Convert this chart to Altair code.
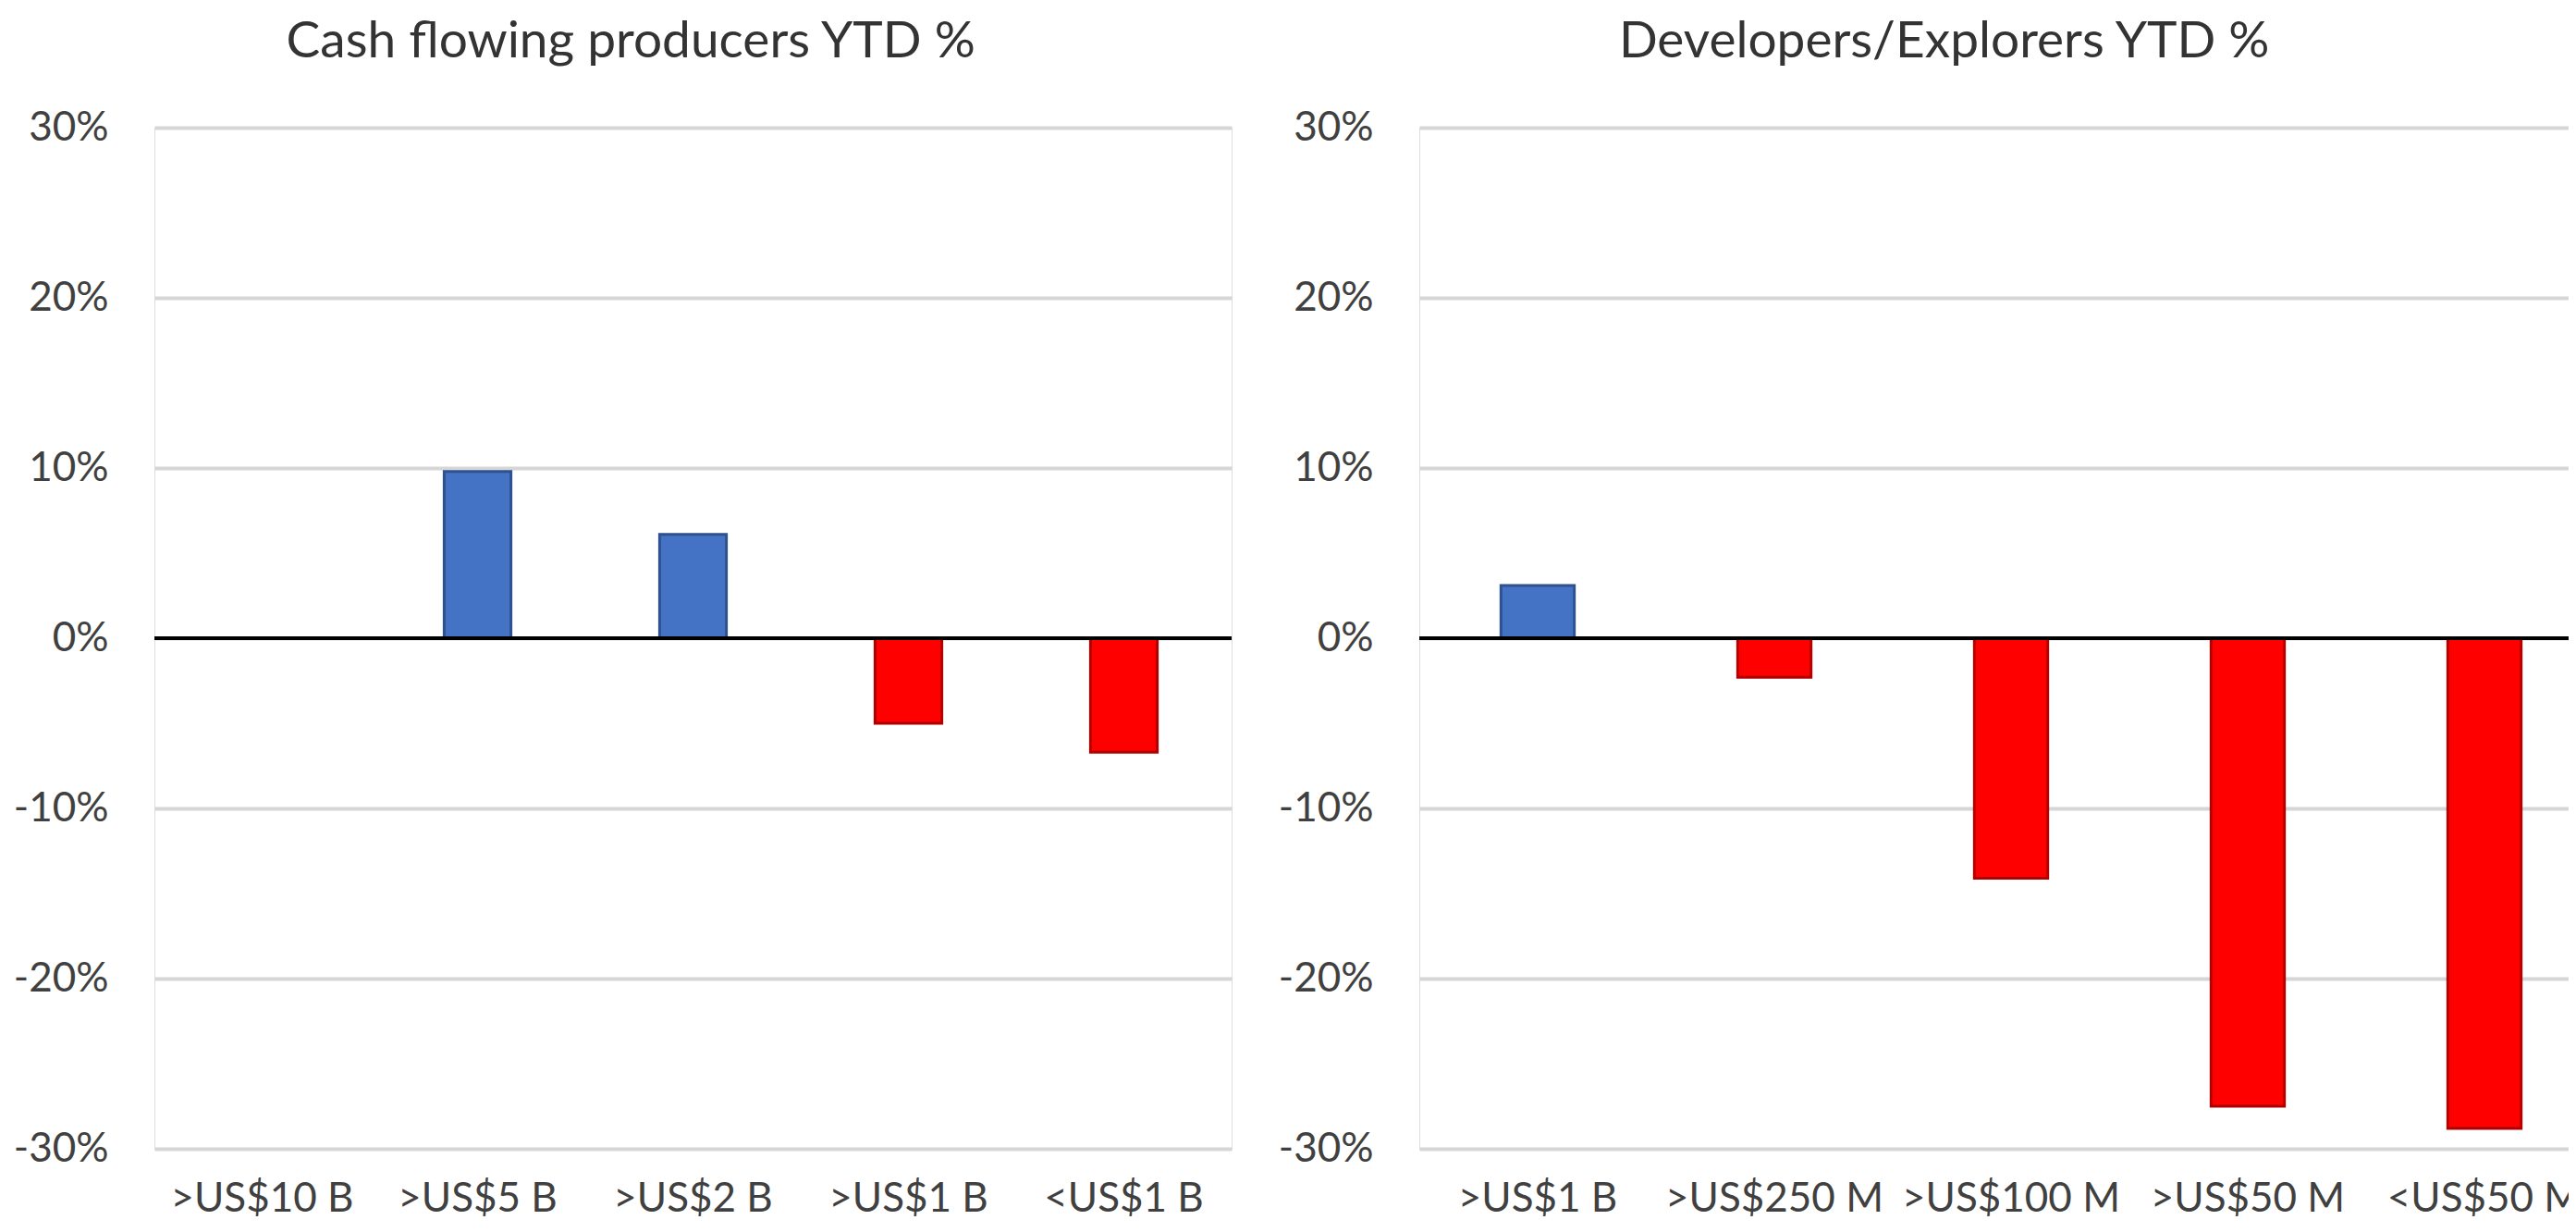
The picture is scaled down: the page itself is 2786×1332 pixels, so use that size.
import altair as alt
import pandas as pd

left_title = "Cash flowing producers YTD %"
left_categories = [">US$10 B", ">US$5 B", ">US$2 B", ">US$1 B", "<US$1 B"]
left_values = [0.0, 0.098, 0.061, -0.050, -0.067]

right_title = "Developers/Explorers YTD %"
right_categories = [">US$1 B", ">US$250 M", ">US$100 M", ">US$50 M", "<US$50 M"]
right_values = [0.031, -0.023, -0.141, -0.275, -0.288]

y_ticks = [-0.3, -0.2, -0.1, 0.0, 0.1, 0.2, 0.3]

FONT = "Lato"
TEXT = "#404040"
BLUE = "#4472C4"
BLUE_EDGE = "#2F528F"
RED = "#FF0000"
RED_EDGE = "#B00000"


def panel(title, cats, vals, width, dx):
    df = pd.DataFrame({"category": cats, "value": vals})
    bars = (
        alt.Chart(df)
        .transform_calculate(sign="datum.value >= 0 ? 'pos' : 'neg'")
        .mark_bar(strokeWidth=3)
        .encode(
            x=alt.X(
                "category:N",
                sort=cats,
                scale=alt.Scale(paddingInner=0.69, paddingOuter=0.345),
                axis=alt.Axis(
                    title=None,
                    labelAngle=0,
                    labelFont=FONT,
                    labelFontSize=44,
                    labelColor=TEXT,
                    labelPadding=32,
                    labelLimit=600,
                    ticks=False,
                    domain=False,
                    grid=False,
                ),
            ),
            y=alt.Y(
                "value:Q",
                scale=alt.Scale(domain=[-0.3, 0.3], nice=False, zero=True),
                axis=alt.Axis(
                    title=None,
                    values=y_ticks,
                    labelExpr="(datum.value < 0 ? '-' : '') + format(abs(datum.value), '.0%')",
                    labelFont=FONT,
                    labelFontSize=44,
                    labelColor=TEXT,
                    labelPadding=50,
                    ticks=False,
                    domain=False,
                    grid=True,
                    gridColor="#D6D6D6",
                    gridWidth=4,
                ),
            ),
            color=alt.Color(
                "sign:N",
                scale=alt.Scale(domain=["pos", "neg"], range=[BLUE, RED]),
                legend=None,
            ),
            stroke=alt.Stroke(
                "sign:N",
                scale=alt.Scale(domain=["pos", "neg"], range=[BLUE_EDGE, RED_EDGE]),
                legend=None,
            ),
        )
    )
    zero = (
        alt.Chart(pd.DataFrame({"z": [0.0]}))
        .mark_rule(color="black", strokeWidth=4)
        .encode(y="z:Q")
    )
    return alt.layer(bars, zero).properties(
        width=width,
        height=1104,
        title=alt.TitleParams(
            title,
            font=FONT,
            fontSize=55,
            fontWeight="normal",
            color="#333333",
            anchor="middle",
            frame="bounds",
            offset=42,
            dx=dx,
        ),
    )


left = panel(left_title, left_categories, left_values, 1165, 8)
right = panel(right_title, right_categories, right_values, 1280, 3)

chart = (
    alt.hconcat(left, right, spacing=203, bounds="flush")
    .resolve_scale(x="independent", y="independent")
    .properties(padding={"left": 5, "top": 9, "right": -40, "bottom": 9})
    .configure_view(stroke=None)
    .configure(background="white")
)

chart.save("out.html", embed_options={"renderer": "svg", "actions": False})
